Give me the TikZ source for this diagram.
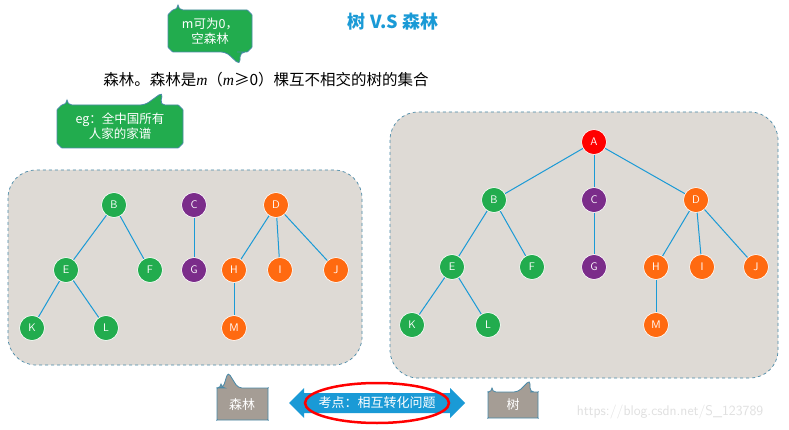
\documentclass[tikz,border=0pt]{standalone}
\usepackage{fontspec}
\newfontfamily\cjk{Noto Sans CJK SC}
\setmainfont{Liberation Serif}
\definecolor{tgreen}{HTML}{22AC4E}
\definecolor{tpurple}{HTML}{7B2C8A}
\definecolor{torange}{HTML}{FF6A10}
\definecolor{tblue}{HTML}{1A9AD6}
\definecolor{boxbg}{HTML}{DEDAD5}
\definecolor{boxedge}{HTML}{4A8AA8}
\definecolor{callgray}{HTML}{A59D95}
\tikzset{
 tn/.style={circle,draw=white,line width=0.6pt,minimum size=25pt,inner sep=0pt,text=white,font=\sffamily\fontsize{11}{11}\selectfont},
 gn/.style={tn,fill=tgreen},
 pn/.style={tn,fill=tpurple},
 on/.style={tn,fill=torange},
 rn/.style={tn,fill=red},
 ed/.style={tblue,line width=1pt},
 panel/.style={fill=boxbg,draw=boxedge,dashed,line width=0.7pt,rounded corners=28pt},
 callg/.style={fill=tgreen,draw=boxedge,line width=0.8pt,rounded corners=5pt},
 callb/.style={fill=callgray,draw=boxedge,line width=0.8pt,rounded corners=4pt}
}
\begin{document}
\begin{tikzpicture}[x=1pt,y=-1pt]
\useasboundingbox (0,0) rectangle (789,430);
\fill[white] (0,0) rectangle (789,430);
% panels
\draw[panel] (8,170) rectangle (362,365);
\draw[panel] (390,112) rectangle (778,378);
% title and text
\node (title) at (393,22) {\cjk\bfseries\color{tblue}\fontsize{18}{18}\selectfont 树 V.S 森林};
\node (main) at (266,80) {\cjk\fontsize{15.5}{15.5}\selectfont 森林。森林是\textit{\rmfamily m}（\textit{\rmfamily m}≥0）棵互不相交的树的集合};
% callouts
\draw[callg] (178,10) -- (242,10) to[out=0,in=90] (252,20) -- (252,42) to[out=-90,in=0] (242,52) -- (240,52) -- (240,65) -- (226,52) -- (178,52) to[out=180,in=-90] (168,42) -- (168,20) to[out=90,in=180] cycle;
\node[text=white,align=center,font=\cjk\fontsize{12.5}{15}\selectfont] (c1) at (210,31) {m可为0，\\空森林};
\draw[callg] (67,105) -- (145,105) -- (163,92) -- (160,105) -- (173,105) to[out=0,in=90] (183,115) -- (183,138) to[out=-90,in=0] (173,148) -- (67,148) to[out=180,in=-90] (57,138) -- (57,115) to[out=90,in=180] cycle;
\node[text=white,align=center,font=\cjk\fontsize{12.5}{15}\selectfont] (c2) at (120,126) {eg：全中国所有\\人家的家谱};
% left forest
\node[gn] (lB) at (114,205) {B};
\node[pn] (lC) at (194,205) {C};
\node[on] (lD) at (276,205) {D};
\node[gn] (lE) at (66,270) {E};
\node[gn] (lF) at (150,270) {F};
\node[pn] (lG) at (194,270) {G};
\node[on] (lH) at (234,270) {H};
\node[on] (lI) at (280,270) {I};
\node[on] (lJ) at (336,270) {J};
\node[gn] (lK) at (32,328) {K};
\node[gn] (lL) at (106,328) {L};
\node[on] (lM) at (234,328) {M};
\foreach \a/\b in {lB/lE,lB/lF,lC/lG,lD/lH,lD/lI,lD/lJ,lE/lK,lE/lL,lH/lM}
 \draw[ed] (\a) -- (\b);
% right tree
\node[rn] (rA) at (594,142) {A};
\node[gn] (rB) at (494,200) {B};
\node[pn] (rC) at (594,200) {C};
\node[on] (rD) at (696,200) {D};
\node[gn] (rE) at (452,267) {E};
\node[gn] (rF) at (532,267) {F};
\node[pn] (rG) at (594,267) {G};
\node[on] (rH) at (656,267) {H};
\node[on] (rI) at (702,267) {I};
\node[on] (rJ) at (756,267) {J};
\node[gn] (rK) at (412,325) {K};
\node[gn] (rL) at (488,325) {L};
\node[on] (rM) at (656,325) {M};
\foreach \a/\b in {rA/rB,rA/rC,rA/rD,rB/rE,rB/rF,rC/rG,rD/rH,rD/rI,rD/rJ,rE/rK,rE/rL,rH/rM}
 \draw[ed] (\a) -- (\b);
% bottom
\draw[callb] (221,388) -- (223,388) -- (228,372) -- (238,388) -- (264,388) to[out=0,in=90] (268,392) -- (268,416) to[out=-90,in=0] (264,420) -- (221,420) to[out=180,in=-90] (217,416) -- (217,392) to[out=90,in=180] cycle;
\node[text=white,font=\cjk\fontsize{13}{13}\selectfont] (fl) at (242,405) {森林};
\draw[callb] (492,392) -- (518,392) -- (530,380) -- (530,392) -- (534,392) to[out=0,in=90] (538,396) -- (538,414) to[out=-90,in=0] (534,418) -- (492,418) to[out=180,in=-90] (488,414) -- (488,396) to[out=90,in=180] cycle;
\node[text=white,font=\cjk\fontsize{13}{13}\selectfont] (tl) at (513,405) {树};
\fill[tblue] (289,403) -- (304,388) -- (304,393) -- (450,393) -- (450,388) -- (465,403) -- (450,418) -- (450,413) -- (304,413) -- (304,418) -- cycle;
\node[text=white,font=\cjk\fontsize{13}{13}\selectfont] (kd) at (377,403) {考点：相互转化问题};
\draw[red,line width=2.5pt] (377,403) ellipse (72 and 20);
\node[text=black!12,font=\sffamily\fontsize{14}{14}\selectfont] (wm) at (670,412) {https://blog.csdn.net/S\_123789};
\end{tikzpicture}
\end{document}
